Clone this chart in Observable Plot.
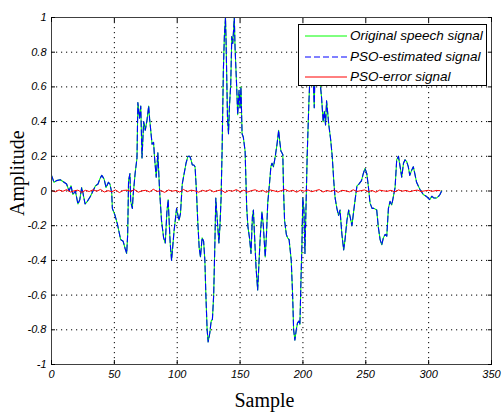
<!DOCTYPE html>
<html><head><meta charset="utf-8">
<script src="https://cdn.jsdelivr.net/npm/d3@7"></script>
<script src="https://cdn.jsdelivr.net/npm/@observablehq/plot@0.6"></script>
<style>
body{margin:0;background:#fff;}
#wrap{position:relative;width:503px;height:414px;}
#legend{position:absolute;left:298px;top:24px;width:187px;height:60px;border:1px solid #000;background:#fff;font:italic 13.5px "Liberation Sans",Arial,sans-serif;color:#000;overflow:hidden;}
.row{position:absolute;left:0;height:14px;display:flex;align-items:center;white-space:nowrap;}
.row svg{margin-left:6px;margin-right:3px;}
</style></head>
<body><div id="wrap"></div>
<script>
// sample positions of the traced vertices
const sample = [0,2,4,7,10,12,14,15.5,17,19,21,22.5,24,25,26.7,28.5,31,33,35,37,38.5,40,41.8,43.4,45.3,46.5,47.9,48.4,50.5,52.4,55,57,58.5,59.8,60.6,61.3,62.4,63,64.3,65,66.5,68,68.7,70,71,72,73.3,74.6,76,77.3,78,80,81.2,82,83.3,84.6,86,87.5,89.2,90.5,91.8,92.8,94.4,95.5,97.5,99.5,101.4,102.6,104,105.5,107,108.5,110,111,112,113.2,114.2,115.3,116.3,117.5,118.5,119.8,121,122,122.8,123.8,124.6,125.9,127,128,129,130,130.7,131.7,132.3,133.2,134,134.9,135.7,136.7,137.5,138.4,138.9,140,140.8,141.5,142.6,143.4,144.2,145.4,146,147.3,148.1,149.2,150,150.7,151.6,152.6,154,155.3,156.3,157.5,158.7,159.8,160.6,161.4,162.7,164,165,166,167.4,168.5,170,171,172,173.5,174.5,175.4,176.6,178,179.4,180.7,181.5,182.5,184,184.6,185.4,186.8,187.8,189,190.7,191.8,192.6,193.6,194.7,195.7,196.8,197.6,198.5,199.2,199.9,200.8,201.6,202.4,203.4,204.7,205.5,206.9,208.2,209,210,210.8,211.6,212.7,214,214.8,216.1,217,218,218.8,219.6,220.6,222,223.3,224.6,225.6,227,228.3,229.5,231,232.4,233.5,235,236.4,237.6,239,240.3,241.7,243,244.5,246.6,248,249.4,250.8,252,253.4,255,256.5,258.7,260,261.4,262.7,264,265.4,266.7,268,269.3,270.7,272,273.3,274.6,276,277.3,278.6,280,281.2,282.5,283.8,285,286.5,287.8,289,290.4,293,295.7,298,300.9,302.5,304,306.4,308,309,310.3];
// original speech signal values at those samples
const original = [0.09,0.05,0.06,0.065,0.05,0.04,0.0,0.03,-0.02,0.0,-0.075,-0.05,0.02,-0.01,-0.075,-0.06,-0.03,0.0,0.03,0.04,0.07,0.09,0.07,0.02,0.05,0.04,-0.01,-0.1,-0.14,-0.19,-0.28,-0.29,-0.33,-0.36,-0.25,0.06,0.1,-0.06,-0.1,-0.02,0.1,0.19,0.51,0.42,0.49,0.19,0.4,0.35,0.41,0.49,0.42,0.27,0.28,0.19,0.08,0.22,0.0,-0.17,-0.27,-0.3,-0.12,-0.05,-0.3,-0.4,-0.23,-0.1,-0.17,-0.13,0.04,0.1,0.16,0.2,0.2,0.18,0.15,0.15,0.14,0.0,-0.17,-0.33,-0.38,-0.27,-0.29,-0.4,-0.6,-0.8,-0.87,-0.82,-0.75,-0.74,-0.6,-0.29,-0.04,-0.15,-0.21,-0.3,-0.2,-0.04,0.23,0.69,0.89,1.0,0.85,0.42,0.33,0.48,0.62,0.89,0.85,1.0,0.83,0.6,0.44,0.58,0.48,0.6,0.33,0.31,0.23,-0.1,-0.21,-0.27,-0.36,-0.15,-0.11,-0.24,-0.44,-0.57,-0.42,-0.27,-0.12,-0.2,-0.38,-0.25,-0.07,0.05,0.14,0.16,0.14,0.2,0.27,0.35,0.29,0.23,0.21,0.0,-0.17,-0.25,-0.27,-0.28,-0.4,-0.6,-0.8,-0.86,-0.8,-0.76,-0.75,-0.77,-0.5,-0.31,-0.04,-0.11,-0.36,-0.11,0.21,0.5,0.65,0.92,0.65,0.48,0.85,0.89,0.71,0.79,0.6,0.54,0.4,0.46,0.38,0.52,0.46,0.38,0.3,0.2,0.05,-0.04,-0.1,-0.14,-0.11,-0.25,-0.34,-0.28,-0.17,-0.11,-0.15,-0.2,-0.12,-0.04,0.03,0.04,0.06,0.1,0.13,0.1,0.03,-0.07,-0.1,-0.1,-0.11,-0.21,-0.28,-0.31,-0.27,-0.25,-0.26,-0.1,-0.06,-0.08,-0.03,0.02,0.18,0.2,0.14,0.08,0.16,0.18,0.17,0.14,0.09,0.12,0.14,0.1,0.05,0.01,-0.02,-0.03,-0.05,-0.03,-0.04,-0.04,-0.03,-0.02,0.0];
// PSO-estimated signal: read as coinciding with the original everywhere
const estimated = original.slice();
// PSO-error signal, read every 3 samples
const errorStep = 3;
const errorValues = [0.003,-0.005,0.006,-0.002,0.008,-0.006,0.001,0.005,-0.008,0.004,
-0.003,0.007,-0.001,0.009,-0.006,0.002,-0.004,0.006,-0.009,0.003,
0.005,-0.002,0.008,-0.007,0.001,0.004,-0.005,0.010,-0.003,0.002,
-0.008,0.006,-0.001,0.003,-0.006,0.009,-0.004,0.005,0.001,-0.007,
0.004,-0.002,0.007,-0.005,0.002,0.006,-0.009,0.003,-0.001,0.008,
-0.004,0.005,-0.006,0.002,0.007,-0.003,0.004,-0.008,0.006,0.001,
-0.005,0.003,0.009,-0.002,0.004,-0.007,0.005,-0.001,0.006,-0.004,
0.002,0.008,-0.006,0.003,-0.002,0.005,-0.008,0.004,0.001,-0.005,
0.007,-0.003,0.002,0.006,-0.004,0.003,-0.007,0.005,0.001,-0.002,
0.004,-0.005,0.006,-0.001,0.003,-0.004,0.002,0.005,-0.003,0.001,
0.004,-0.002,0.003,0.002];
const xTicks = [0,50,100,150,200,250,300,350];
const yTicks = [-1,-0.8,-0.6,-0.4,-0.2,0,0.2,0.4,0.6,0.8,1];
const seriesNames = ["Original speech signal","PSO-estimated signal","PSO-error signal"];
const seriesColors = ["#00ff00","#0000ff","#ff0000"];
const seriesDash = [null,"6,3",null];
const xLabel = "Sample";
const yLabel = "Amplitude";

const origData = sample.map((s,i)=>({s, v: original[i]}));
const estData = sample.map((s,i)=>({s, v: estimated[i]}));
const errData = errorValues.map((v,i)=>({s: i*errorStep, v}));

const fmtY = d => String(+(+d).toFixed(1));
const chart = Plot.plot({
  width:503, height:414,
  marginLeft:51, marginRight:12, marginTop:17, marginBottom:50,
  x:{domain:[0,350], label:null},
  y:{domain:[-1,1], label:null},
  style:{fontFamily:'"Liberation Sans", Arial, sans-serif', fontSize:"11px", fontStyle:"italic", background:"#fff", color:"#000", overflow:"visible"},
  marks:[
    Plot.gridX(xTicks,{stroke:"#000", strokeOpacity:1, strokeDasharray:"1.2,3.8"}),
    Plot.gridY(yTicks,{stroke:"#000", strokeOpacity:1, strokeDasharray:"1.2,3.8"}),
    Plot.line(origData,{x:"s",y:"v",stroke:seriesColors[0],strokeWidth:1.1}),
    Plot.line(estData,{x:"s",y:"v",stroke:seriesColors[1],strokeWidth:1.1,strokeDasharray:seriesDash[1]}),
    Plot.line(errData,{x:"s",y:"v",stroke:seriesColors[2],strokeWidth:1}),
    Plot.frame({stroke:"#404040"}),
    Plot.axisX(xTicks,{anchor:"bottom",tickSize:0,tickPadding:6,tickFormat:d=>String(d),label:null}),
    Plot.axisY(yTicks,{anchor:"left",tickSize:0,tickPadding:5,tickFormat:fmtY,label:null}),
    Plot.axisX(xTicks,{anchor:"bottom",tickSize:-4,fill:"none",label:null}),
    Plot.axisX(xTicks,{anchor:"top",tickSize:-4,fill:"none",label:null}),
    Plot.axisY(yTicks,{anchor:"left",tickSize:-4,fill:"none",label:null}),
    Plot.axisY(yTicks,{anchor:"right",tickSize:-4,fill:"none",label:null}),
    Plot.text([xLabel],{frameAnchor:"bottom",dx:-7,dy:42,lineAnchor:"bottom",fontFamily:'"Liberation Serif","Times New Roman",serif',fontSize:20,fontStyle:"normal",fill:"#000"}),
    Plot.text([yLabel],{frameAnchor:"left",rotate:-90,dx:-34,dy:25,lineAnchor:"middle",fontFamily:'"Liberation Serif","Times New Roman",serif',fontSize:20,fontStyle:"normal",fill:"#000"})
  ]
});
const wrap = document.getElementById("wrap");
wrap.appendChild(chart);

// legend overlay
const legend = document.createElement("div");
legend.id = "legend";
const rowTops = [3.5, 24.5, 44.5];
seriesNames.forEach((name,i)=>{
  const row = document.createElement("div");
  row.className = "row";
  row.style.top = rowTops[i] + "px";
  const dash = seriesDash[i] ? `stroke-dasharray="${seriesDash[i]}"` : "";
  row.innerHTML = `<svg width="42" height="4"><line x1="0" y1="2" x2="42" y2="2" stroke="${seriesColors[i]}" stroke-width="1" ${dash}/></svg><span>${name}</span>`;
  legend.appendChild(row);
});
wrap.appendChild(legend);
</script>
</body></html>
